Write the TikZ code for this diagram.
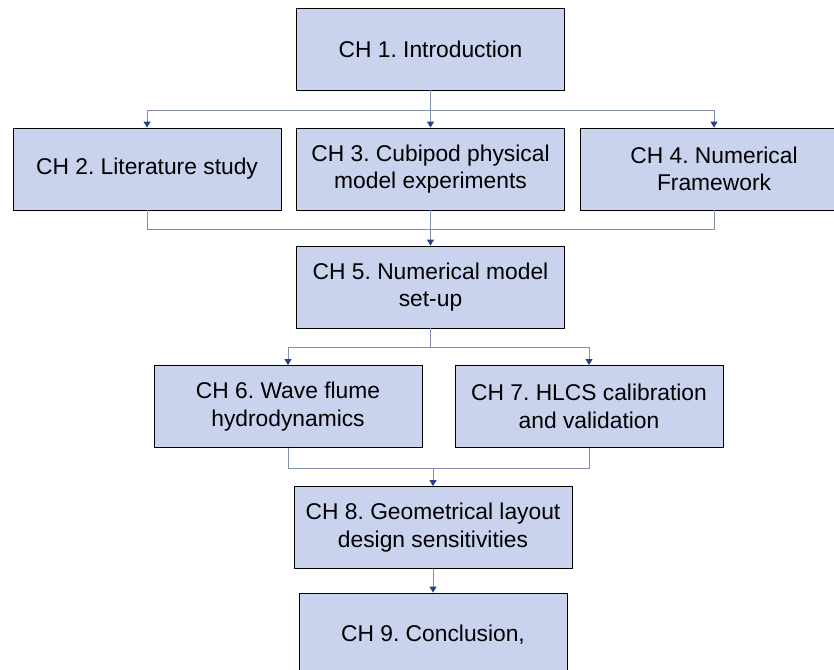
\documentclass[tikz,border=0pt]{standalone}
\usepackage{fontspec}
\setmainfont{Liberation Sans}
\usepackage{tikz}
\usetikzlibrary{arrows.meta,calc}
\definecolor{boxfill}{RGB}{202,211,238}
\definecolor{linkline}{RGB}{130,142,178}
\definecolor{tipnavy}{RGB}{40,62,135}
\frenchspacing

\begin{document}
\begin{tikzpicture}[
        x=1pt, y=-1pt, % 以像素为单位
        chbox/.style={draw=black, line width=0.9pt, fill=boxfill,
            minimum width=268pt, minimum height=82pt, inner sep=2pt,
            align=center, font=\fontsize{22.8}{27.5}\selectfont},
        link/.style={draw=linkline, line width=0.9pt},
        linkarrow/.style={link, -{Triangle[color=tipnavy, width=7pt, length=6pt]}},
    ]
    % 固定画布大小
    \useasboundingbox (0,0) rectangle (834,669);

    % 各章方框
    \node[chbox] (ch1) at (430.5,49)   {CH 1. Introduction};
    \node[chbox] (ch2) at (147,169)    {CH 2. Literature study};
    \node[chbox] (ch3) at (430.5,169)  {CH 3. Cubipod physical\\model experiments};
    \node[chbox] (ch4) at (714,169)    {CH 4. Numerical\\Framework};
    \node[chbox] (ch5) at (430.5,287)  {CH 5. Numerical model\\set-up};
    \node[chbox] (ch6) at (288,406.5)  {CH 6. Wave flume\\hydrodynamics};
    \node[chbox] (ch7) at (589,406.5)  {CH 7. HLCS calibration\\and validation};
    \node[chbox, minimum width=278pt] (ch8) at (433,527.5) {CH 8. Geometrical layout\\design sensitivities};
    \node[chbox, minimum height=84pt] (ch9) at (433,635) {CH 9. Conclusion,};

    % 第一层分支
    \draw[linkarrow] (ch1.south) -- ++(0,20) -| (ch2.north);
    \draw[linkarrow] (ch1.south) ++(0,20) -| (ch4.north);
    \draw[linkarrow] (ch1.south) -- (ch3.north);

    % 汇合到 CH 5
    \draw[link] (ch2.south) -- ++(0,19) -| (ch4.south);
    \draw[linkarrow] (ch3.south) -- (ch5.north);

    % 第二层分支
    \draw[linkarrow] (ch5.south) -- ++(0,19) -| (ch6.north);
    \draw[linkarrow] (ch5.south) ++(0,19) -| (ch7.north);

    % 汇合到 CH 8
    \draw[link] (ch6.south) -- ++(0,20) coordinate (m67) -| (ch7.south);
    \draw[linkarrow] (ch8.north |- m67) -- (ch8.north);
    \draw[linkarrow] (ch8.south) -- (ch9.north);
\end{tikzpicture}
\end{document}
